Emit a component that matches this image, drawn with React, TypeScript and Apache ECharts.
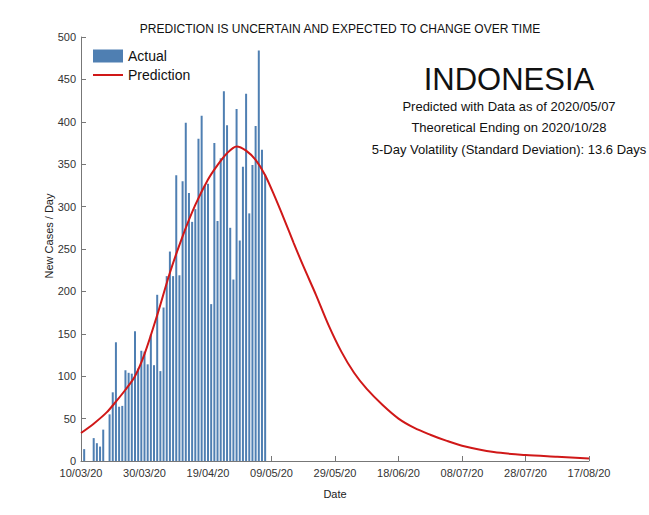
import React, { useEffect, useRef } from "react";
import * as echarts from "echarts";

const START_DATE = "2020-03-10";

const actualDates = [
  "2020-03-11", "2020-03-12", "2020-03-13", "2020-03-14", "2020-03-15", "2020-03-16", "2020-03-17",
  "2020-03-18", "2020-03-19", "2020-03-20", "2020-03-21", "2020-03-22", "2020-03-23", "2020-03-24",
  "2020-03-25", "2020-03-26", "2020-03-27", "2020-03-28", "2020-03-29", "2020-03-30", "2020-03-31",
  "2020-04-01", "2020-04-02", "2020-04-03", "2020-04-04", "2020-04-05", "2020-04-06", "2020-04-07",
  "2020-04-08", "2020-04-09", "2020-04-10", "2020-04-11", "2020-04-12", "2020-04-13", "2020-04-14",
  "2020-04-15", "2020-04-16", "2020-04-17", "2020-04-18", "2020-04-19", "2020-04-20", "2020-04-21",
  "2020-04-22", "2020-04-23", "2020-04-24", "2020-04-25", "2020-04-26", "2020-04-27", "2020-04-28",
  "2020-04-29", "2020-04-30", "2020-05-01", "2020-05-02", "2020-05-03", "2020-05-04", "2020-05-05",
  "2020-05-06", "2020-05-07",
];

const actualValues = [
  14, 0, 0, 27, 21, 17, 37,
  0, 55, 81, 140, 64, 65, 107,
  104, 103, 153, 109, 130, 129, 114,
  149, 113, 196, 106, 181, 218, 247,
  218, 337, 219, 330, 399, 316, 282,
  297, 380, 407, 325, 327, 185, 375,
  283, 357, 436, 396, 275, 214, 415,
  260, 347, 433, 292, 349, 395, 484,
  367, 338,
];

// days since 10/03/20
const predictionDays = [
  0, 4, 8, 11, 14, 17, 20, 24, 28, 32, 36, 40, 43, 46, 49, 52, 55, 58, 61, 64, 67, 70, 74, 78, 82, 86, 90, 95, 100,
  105, 110, 115, 120, 130, 140, 150, 160,
];
const predictionValues = [
  33, 44, 57, 70, 84, 100, 126, 172, 222, 265, 302, 332, 349, 363, 371, 366, 355, 337, 312, 285, 257, 230, 196, 160, 129, 104, 85, 66, 50,
  39, 31, 24, 18, 10.5, 7, 5, 3,
];

const tickLabels = [
  "10/03/20", "30/03/20", "19/04/20", "09/05/20", "29/05/20", "18/06/20", "08/07/20", "28/07/20", "17/08/20",
];

const infoLines = [
  "Predicted with Data as of 2020/05/07",
  "Theoretical Ending on 2020/10/28",
  "5-Day Volatility (Standard Deviation): 13.6 Days",
];

const dayOffset = (d: string) =>
  Math.round((Date.parse(d + "T00:00:00Z") - Date.parse(START_DATE + "T00:00:00Z")) / 86400000);

export default function App() {
  const ref = useRef<HTMLDivElement>(null);

  useEffect(() => {
    if (!ref.current) return;
    const chart = echarts.init(ref.current, null, { renderer: "svg" });
    const font = "Arial, 'Liberation Sans', Helvetica, sans-serif";

    const barData = actualDates.map((d, i) => [dayOffset(d), actualValues[i]]);
    const lineData = predictionDays.map((d, i) => [d, predictionValues[i]]);

    chart.setOption({
      animation: false,
      backgroundColor: "#ffffff",
      textStyle: { fontFamily: font },
      title: {
        text: "PREDICTION IS UNCERTAIN AND EXPECTED TO CHANGE OVER TIME",
        left: 335,
        textAlign: "center",
        top: 18,
        textStyle: { fontSize: 12, fontWeight: "normal", color: "#111", fontFamily: font },
      },
      legend: {
        orient: "vertical",
        left: 88,
        top: 46,
        padding: [3, 5, 3, 5],
        itemWidth: 30,
        itemHeight: 13,
        itemGap: 5,
        textStyle: { fontSize: 14, color: "#111", fontFamily: font },
        data: [
          { name: "Actual", icon: "rect" },
          { name: "Prediction", icon: "path://M0,0 L30,0 L30,2 L0,2 Z", itemStyle: { color: "#d01818" } },
        ],
      },
      grid: { left: 81, right: 60, top: 37, bottom: 54, containLabel: false },
      xAxis: {
        type: "value",
        min: 0,
        max: 160,
        interval: 20,
        name: "Date",
        nameLocation: "middle",
        nameGap: 27,
        nameTextStyle: { fontSize: 11, color: "#222", fontFamily: font },
        axisLine: { show: true, lineStyle: { color: "#777", width: 1 } },
        axisTick: { show: true, inside: true, length: 5, lineStyle: { color: "#777" } },
        axisLabel: {
          fontSize: 11,
          color: "#333",
          margin: 6,
          fontFamily: font,
          formatter: (v: number) => tickLabels[Math.round(v / 20)] ?? "",
        },
        splitLine: { show: false },
      },
      yAxis: {
        type: "value",
        min: 0,
        max: 500,
        interval: 50,
        axisLine: { show: true, lineStyle: { color: "#777", width: 1 } },
        axisTick: { show: true, inside: true, length: 5, lineStyle: { color: "#777" } },
        axisLabel: { fontSize: 11, color: "#333", margin: 5, fontFamily: font },
        splitLine: { show: false },
      },
      series: [
        {
          name: "Actual",
          type: "bar",
          data: barData,
          barWidth: 2,
          itemStyle: { color: "#4f7fb2" },
        },
        {
          name: "Prediction",
          type: "line",
          data: lineData,
          smooth: 0.3,
          symbol: "none",
          showSymbol: false,
          lineStyle: { color: "#d01818", width: 2 },
          itemStyle: { color: "#d01818" },
          z: 5,
        },
      ],
      graphic: [
        {
          type: "text",
          x: 49,
          y: 236,
          rotation: Math.PI / 2,
          style: {
            text: "New Cases / Day",
            fontSize: 11,
            fontFamily: font,
            fill: "#222",
            align: "center",
            verticalAlign: "middle",
          },
        },
        {
          type: "text",
          x: 509,
          y: 79,
          style: {
            text: "INDONESIA",
            fontSize: 31,
            fontFamily: font,
            fill: "#111",
            align: "center",
            verticalAlign: "middle",
          },
        },
        ...infoLines.map((t, i) => ({
          type: "text",
          x: 509,
          y: 106 + i * 21.5,
          style: {
            text: t,
            fontSize: 13,
            fontFamily: font,
            fill: "#111",
            align: "center",
            verticalAlign: "middle",
          },
        })),
      ],
    });

    return () => chart.dispose();
  }, []);

  return (
    <div
      ref={ref}
      style={{ position: "absolute", left: 0, top: 0, width: 649, height: 515 }}
    />
  );
}
